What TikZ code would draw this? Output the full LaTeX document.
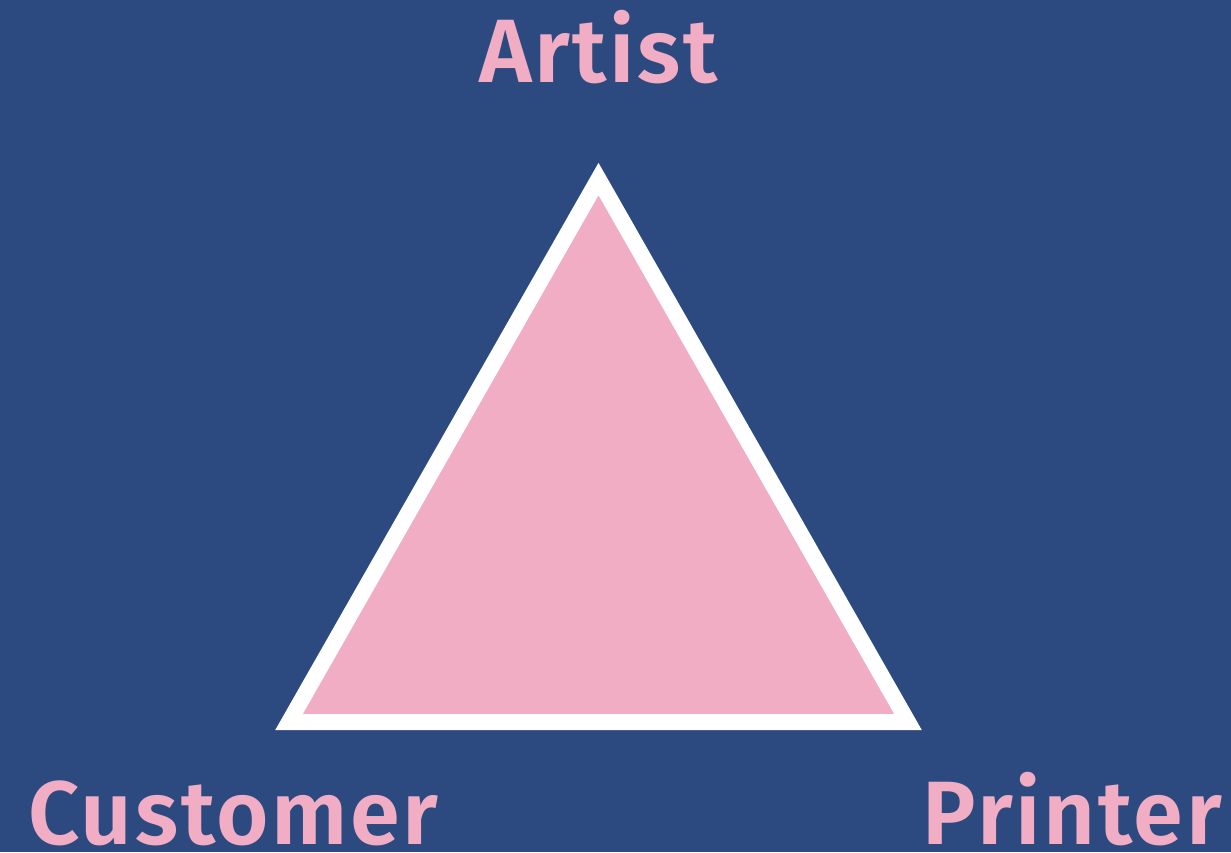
\documentclass[tikz,border=0pt]{standalone}
\usepackage{fontspec}
\setmainfont{Fira Sans}[BoldFont={Fira Sans SemiBold},LetterSpace=3]
\usepackage{tikz}
\usetikzlibrary{positioning}
\definecolor{tribg}{RGB}{44,74,128}
\definecolor{tripink}{RGB}{240,173,195}

\begin{document}
\begin{tikzpicture}[x=1pt,y=-1pt,
    role/.style={text=tripink,inner sep=0pt,font=\fontsize{90}{90}\selectfont\bfseries}]
    \fill[tribg] (0,0) rectangle (1231,852);
    \useasboundingbox (0,0) rectangle (1231,852);
    \coordinate (top) at (598.5,179);
    \coordinate (left) at (289,722);
    \coordinate (right) at (908,722);
    \draw[white,line width=16pt,fill=tripink,line join=miter] (top)--(left)--(right)--cycle;
    \node[role,anchor=base] (artist) at (598.5,82) {Artist};
    \node[role,anchor=base west] (customer) at (28,844) {Customer};
    \node[role,anchor=base east] (printer) at (1222,844) {Printer};
  \end{tikzpicture}
\end{document}
